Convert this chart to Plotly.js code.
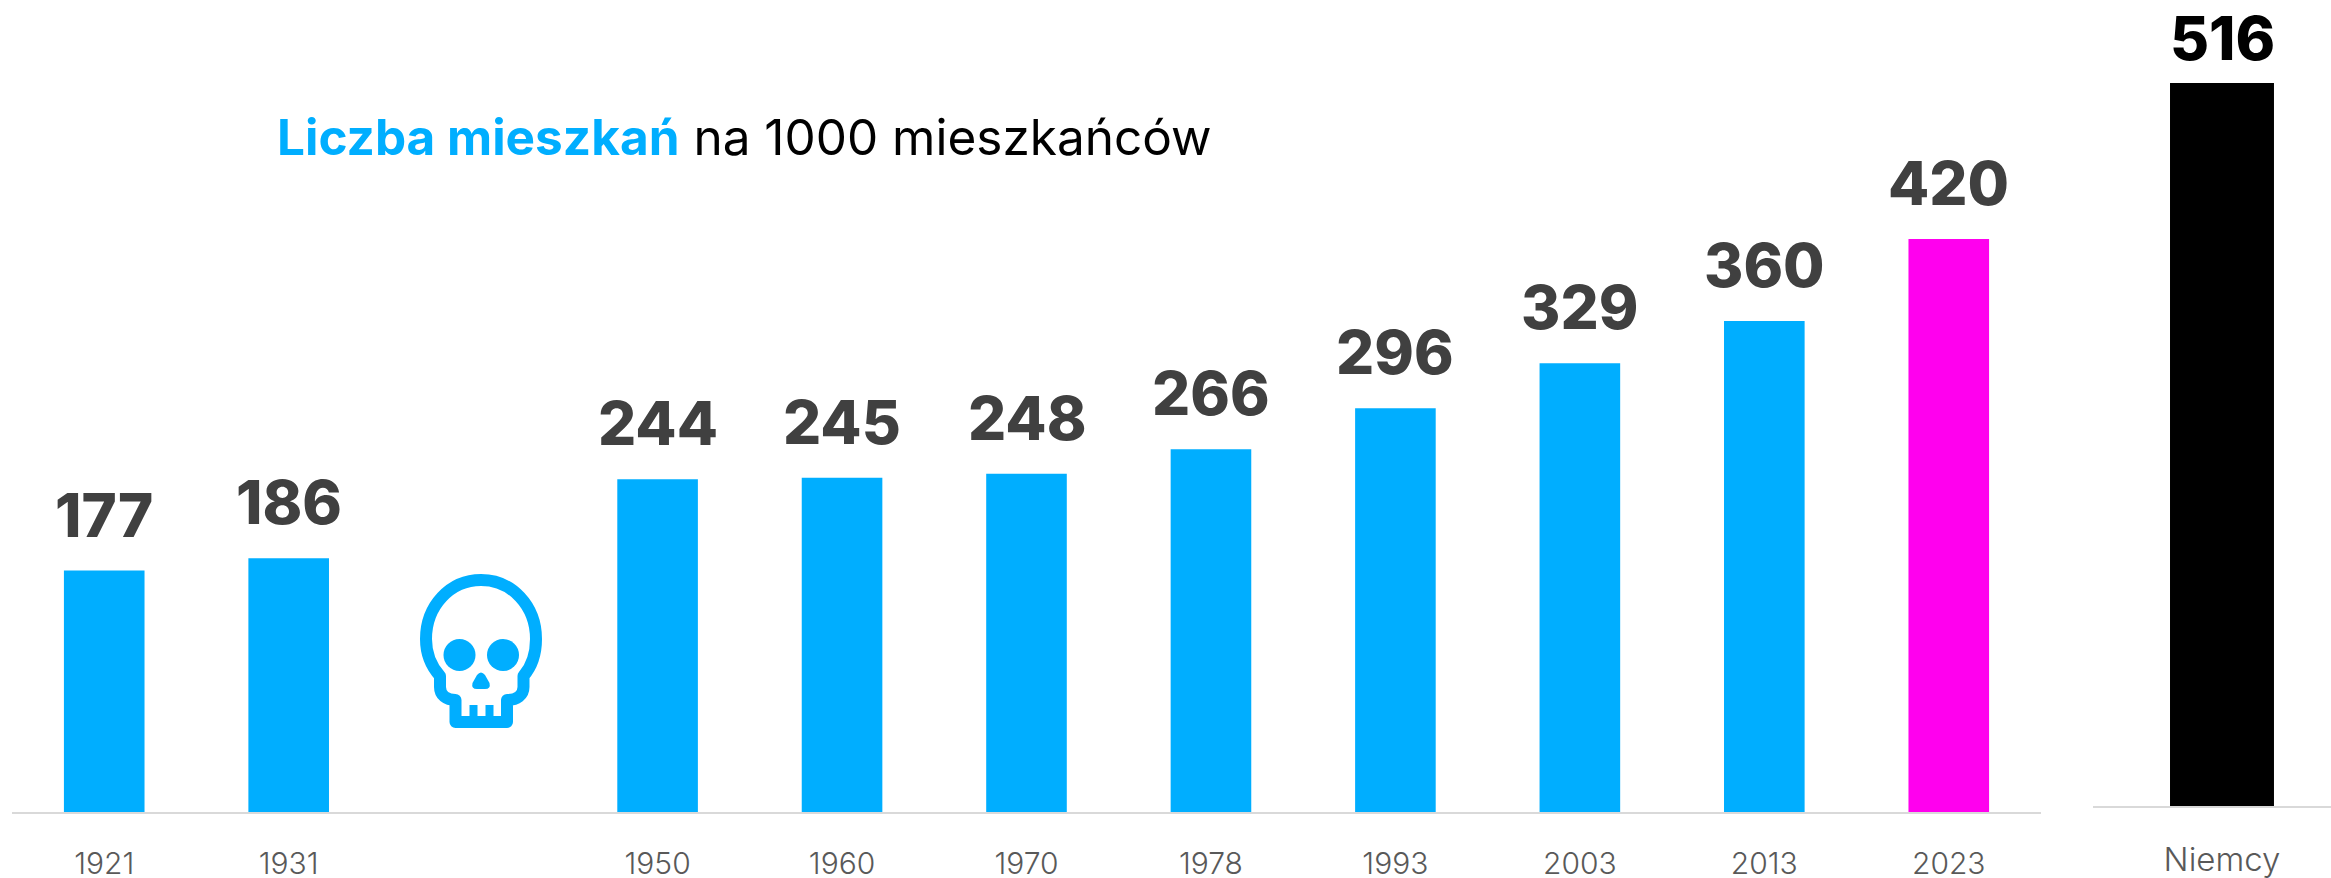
<!DOCTYPE html>
<html><head><meta charset="utf-8">
<script src="https://cdn.plot.ly/plotly-3.0.1.min.js"></script>
<style>html,body{margin:0;padding:0;background:#fff}#c{width:2331px;height:878px}</style>
</head><body><div id="c"></div>
<script>
const years = ['1921','1931',' ','1950','1960','1970','1978','1993','2003','2013','2023'];
const dwellings = [177,186,null,244,245,248,266,296,329,360,420];
const compareLabels = ['Niemcy'];
const compareValues = [516];
const titleBold = 'Liczba mieszkań';
const titleRest = ' na 1000 mieszkańców';

const BLUE='#00AEFF', MAGENTA='#FF00EE', W=2331, H=878, FONT='Inter, sans-serif';
const highlightYear='2023';
const skull = `<svg xmlns="http://www.w3.org/2000/svg" viewBox="0 0 220 220" width="220" height="220"><g fill="none" stroke="${BLUE}" stroke-width="12" stroke-linejoin="round"><path d="M60 136C50 125 46 113 46 99C46 66 70 40 101 40C132 40 156 66 156 99C156 113 153 125 143.500 136V147C143.500 155 137 160 127 160V182H75.500V160C66 160 60 155 60 147Z"/></g><g fill="${BLUE}"><circle cx="79.500" cy="115" r="16"/><circle cx="123" cy="115" r="16"/><path d="M97 135Q101 130 105 135L109.500 143Q111 149 105 149H97Q91 149 92.500 143Z"/><rect x="89.500" y="165" width="8" height="13"/><rect x="105.500" y="165" width="8" height="13"/></g></svg>`;

const traces=[
 {type:'bar',x:years,y:dwellings,width:0.437,xaxis:'x',yaxis:'y',
  marker:{color:years.map(y=>y===highlightYear?MAGENTA:BLUE)},hoverinfo:'x+y'},
 {type:'bar',x:compareLabels,y:compareValues,width:0.403,xaxis:'x2',yaxis:'y2',
  marker:{color:'#000000'},hoverinfo:'x+y'}
];
const annotations=[];
years.forEach((y,i)=>{ if(dwellings[i]!==null) annotations.push({
  xref:'x',yref:'y',x:i,y:dwellings[i],text:String(dwellings[i]),showarrow:false,
  yanchor:'middle',yshift:56,font:{family:FONT,size:60,color:'#404040',weight:800}});});
compareLabels.forEach((l,i)=>annotations.push({
  xref:'x2',yref:'y2',x:i,y:compareValues[i],text:String(compareValues[i]),showarrow:false,
  yanchor:'middle',yshift:45,font:{family:FONT,size:60,color:'#000000',weight:800}}));
annotations.push({xref:'paper',yref:'paper',x:275/W,y:1-137/H,xanchor:'left',yanchor:'middle',showarrow:false,
  text:`<span style="color:${BLUE}"><b>${titleBold}</b></span>${titleRest}`,
  font:{family:FONT,size:49.5,color:'#000000'}});

const axisBase={type:'category',showgrid:false,zeroline:false,showline:true,linecolor:'#D9D9D9',linewidth:2,
  ticks:'outside',tickcolor:'rgba(0,0,0,0)',fixedrange:true};
const layout={
 width:W,height:H,margin:{l:0,r:0,t:0,b:0},paper_bgcolor:'#fff',plot_bgcolor:'#fff',showlegend:false,
 xaxis:Object.assign({},axisBase,{domain:[12/W,2041/W],anchor:'y',ticklen:24,categoryorder:'array',categoryarray:years,range:[-0.5,10.5],
   tickfont:{family:FONT,size:30,color:'#595959',weight:300}}),
 yaxis:{domain:[(H-812)/H,1],range:[0,595.3],visible:false,fixedrange:true},
 xaxis2:Object.assign({},axisBase,{domain:[2093/W,1],anchor:'y2',ticklen:23,range:[-0.5,0.4225],
   tickfont:{family:FONT,size:33,color:'#595959',weight:300}}),
 yaxis2:{domain:[(H-806)/H,1],range:[0,575.3],visible:false,anchor:'x2',fixedrange:true},
 annotations,
 images:[{source:'data:image/svg+xml;charset=utf-8,'+encodeURIComponent(skull),xref:'paper',yref:'paper',
   x:380/W,y:1-540/H,sizex:220/W,sizey:220/H,sizing:'stretch',xanchor:'left',yanchor:'top',layer:'above'}]
};
Plotly.newPlot('c',traces,layout,{displayModeBar:false,responsive:false});
</script></body></html>
